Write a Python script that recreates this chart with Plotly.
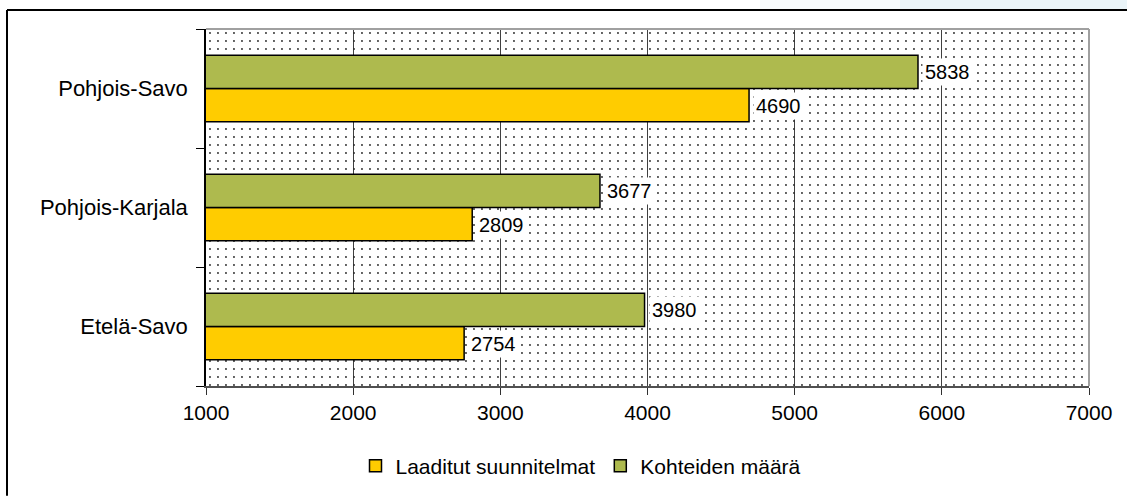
import plotly.graph_objects as go

categories = ["Etelä-Savo", "Pohjois-Karjala", "Pohjois-Savo"]
laaditut = [2754, 2809, 4690]
kohteet = [3980, 3677, 5838]
series_names = ["Laaditut suunnitelmat", "Kohteiden määrä"]
x_ticks = [1000, 2000, 3000, 4000, 5000, 6000, 7000]
XMIN, XMAX = 1000, 7000

YELLOW = "#FFCC00"
GREEN = "#AEBA4E"
FONT = "Liberation Sans, Arial, sans-serif"

W, H = 1127, 497
L, R, T, B = 206, 38, 29, 110
pw, ph = W - L - R, H - T - B


def px_x(p):
    return (p - L) / pw


def px_y(p):
    return (H - B - p) / ph


fig = go.Figure()

# dotted plot-area background (on hidden numeric axis)
fig.add_trace(go.Bar(
    y=[0.5], x=[XMAX - XMIN], base=[XMIN], width=[1], orientation="h",
    marker=dict(color="#2a2a2a", line=dict(width=0),
                pattern=dict(shape=".", size=8, solidity=0.045, fillmode="replace")),
    showlegend=False, hoverinfo="skip", yaxis="y",
))

fig.add_trace(go.Bar(
    name=series_names[0], y=categories, x=laaditut, orientation="h",
    marker=dict(color=YELLOW, line=dict(color="black", width=1.5)), yaxis="y2",
))
fig.add_trace(go.Bar(
    name=series_names[1], y=categories, x=kohteet, orientation="h",
    marker=dict(color=GREEN, line=dict(color="black", width=1.5)), yaxis="y2",
))

annotations = []
for cat, v in zip(categories, laaditut):
    annotations.append(dict(x=v, y=cat, xref="x", yref="y2", text=str(v), showarrow=False,
                            xanchor="left", yanchor="middle", xshift=4, yshift=-17,
                            bgcolor="white", borderpad=2,
                            font=dict(family=FONT, size=20, color="black")))
for cat, v in zip(categories, kohteet):
    annotations.append(dict(x=v, y=cat, xref="x", yref="y2", text=str(v), showarrow=False,
                            xanchor="left", yanchor="middle", xshift=4, yshift=17,
                            bgcolor="white", borderpad=2,
                            font=dict(family=FONT, size=20, color="black")))

shapes = [
    # light blue strip in top-right corner
    dict(type="rect", xref="paper", yref="paper", x0=px_x(760), x1=px_x(900), y0=px_y(9), y1=px_y(0),
         fillcolor="#F7FBFD", line=dict(width=0), layer="below"),
    dict(type="rect", xref="paper", yref="paper", x0=px_x(900), x1=px_x(W), y0=px_y(9), y1=px_y(0),
         fillcolor="#EAF4F8", line=dict(width=0), layer="below"),
    # outer chart frame (left & top)
    dict(type="line", xref="paper", yref="paper", x0=px_x(7), x1=px_x(7), y0=px_y(H), y1=px_y(10),
         line=dict(color="black", width=2)),
    dict(type="line", xref="paper", yref="paper", x0=px_x(7), x1=px_x(W), y0=px_y(10), y1=px_y(10),
         line=dict(color="black", width=2)),
    # plot area top and right border
    dict(type="line", xref="paper", yref="paper", x0=0, x1=1, y0=1, y1=1,
         line=dict(color="#A0A0A0", width=2)),
    dict(type="line", xref="paper", yref="paper", x0=1, x1=1, y0=0, y1=1,
         line=dict(color="#A0A0A0", width=2)),
]

fig.update_layout(
    width=W, height=H,
    margin=dict(l=L, r=R, t=T, b=B),
    paper_bgcolor="white", plot_bgcolor="white",
    barmode="group", bargap=0.44, bargroupgap=0,
    font=dict(family=FONT, size=21, color="black"),
    xaxis=dict(range=[XMIN, XMAX], tickvals=x_ticks, ticktext=[str(t) for t in x_ticks],
               showgrid=True, gridcolor="#404040", gridwidth=1,
               showline=True, linecolor="#505050", linewidth=2,
               ticks="outside", ticklen=7, tickcolor="#303030",
               tickfont=dict(family=FONT, size=21), zeroline=False),
    yaxis=dict(range=[0, 1], visible=False, fixedrange=True),
    yaxis2=dict(overlaying="y", side="left", type="category", categoryorder="array",
                categoryarray=categories, showline=True, linecolor="black", linewidth=1.5,
                ticks="outside", tickson="boundaries", ticklen=8, tickcolor="black",
                showgrid=False, ticklabelstandoff=12,
                tickfont=dict(family=FONT, size=22)),
    legend=dict(orientation="h", x=px_x(581), xanchor="center", y=px_y(466), yanchor="middle",
                font=dict(family=FONT, size=21), itemwidth=30, tracegroupgap=0,
                bgcolor="rgba(0,0,0,0)"),
    annotations=annotations,
    shapes=shapes,
    showlegend=True,
)

fig.write_html("out.html", config={"displayModeBar": False},
               post_script="document.body.style.margin='0px';")
